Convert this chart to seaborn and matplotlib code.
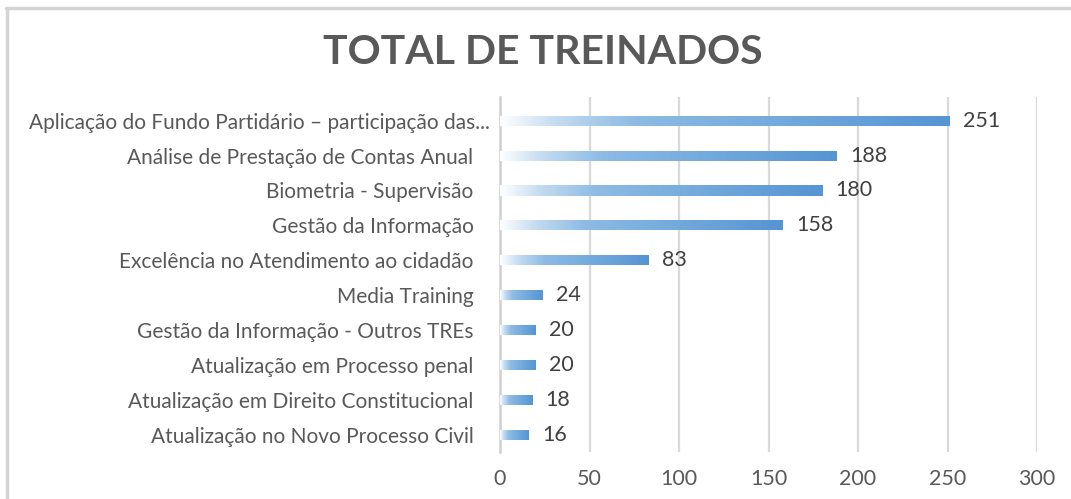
import matplotlib.pyplot as plt
import matplotlib.colors as mcolors
from matplotlib.lines import Line2D
from matplotlib.transforms import ScaledTranslation
import numpy as np
import pandas as pd
import seaborn as sns

# === Data ===
cursos = [
    "Aplicação do Fundo Partidário – participação das...",
    "Análise de Prestação de Contas Anual",
    "Biometria - Supervisão",
    "Gestão da Informação",
    "Excelência no Atendimento ao cidadão",
    "Media Training",
    "Gestão da Informação - Outros TREs",
    "Atualização em Processo penal",
    "Atualização em Direito Constitucional",
    "Atualização no Novo Processo Civil",
]
treinados = [251, 188, 180, 158, 83, 24, 20, 20, 18, 16]
x_ticks = [0, 50, 100, 150, 200, 250, 300]

df = pd.DataFrame({"curso": cursos, "treinados": treinados})

# === Style ===
sns.set_theme(style="white")
plt.rcParams["font.family"] = ["Lato", "DejaVu Sans"]

W, H = 1071, 499
fig = plt.figure(figsize=(W / 100, H / 100), dpi=100)
ax = fig.add_axes([500 / W, 1 - 452 / H, 537 / W, 355 / H])

ax = sns.barplot(data=df, x="treinados", y="curso", orient="h", width=0.29,
                 color="#5B9BD5", ax=ax, zorder=3)

# gradient fill (white -> blue) on each bar
grad = mcolors.LinearSegmentedColormap.from_list(
    "grad", [(0.0, "#FFFFFF"), (0.12, "#C6DCF1"), (0.3, "#8DBBE4"),
             (1.0, "#5595D3")])
gradient = np.linspace(0, 1, 256).reshape(1, -1)
for patch in list(ax.patches):
    x0, y0 = patch.get_x(), patch.get_y()
    w, h = patch.get_width(), patch.get_height()
    patch.set_facecolor("none")
    patch.set_edgecolor("none")
    im = ax.imshow(gradient, cmap=grad, aspect="auto",
                   extent=[x0, x0 + w, y0 + h, y0], zorder=3)
    im.set_clip_path(patch)

# value labels
for i, v in enumerate(treinados):
    ax.text(v + 7.5, i, f"{v}", va="center", ha="left", fontsize=15.5,
            color="#404040", zorder=4)

ax.set_xlim(0, 300)
ax.set_ylim(9.5, -0.68)
ax.set_xticks(x_ticks)
ax.set_xticklabels([str(t) for t in x_ticks])
ax.xaxis.grid(True, color="#D9D9D9", linewidth=1.6, zorder=0)
ax.yaxis.grid(False)
for s in ["top", "right", "bottom"]:
    ax.spines[s].set_visible(False)
ax.spines["left"].set_color("#D0D0D0")
ax.spines["left"].set_linewidth(1.8)
ax.tick_params(axis="x", length=0, pad=12, labelsize=15.5, labelcolor="#595959")
ax.tick_params(axis="y", length=0, pad=19, labelsize=15, labelcolor="#595959")
ax.set_xlabel("")
ax.set_ylabel("")

# the long first label overflows to the right, as in the original
lbl = ax.get_yticklabels()[0]
lbl.set_transform(lbl.get_transform() + ScaledTranslation(16 / 100, 0, fig.dpi_scale_trans))

# title
fig.text(543 / W, 1 - 52 / H, "TOTAL DE TREINADOS", ha="center", va="center",
         fontsize=29.5, fontweight="bold", color="#595959")

# chart border (top and left edges visible)
fig.add_artist(Line2D([6 / W, 1], [1 - 7.5 / H] * 2, color="#D4D4D4",
                      linewidth=2.5, transform=fig.transFigure))
fig.add_artist(Line2D([7 / W] * 2, [0, 1 - 7.5 / H], color="#D4D4D4",
                      linewidth=2.5, transform=fig.transFigure))

fig.savefig("out.png", dpi=100)
plt.close(fig)
